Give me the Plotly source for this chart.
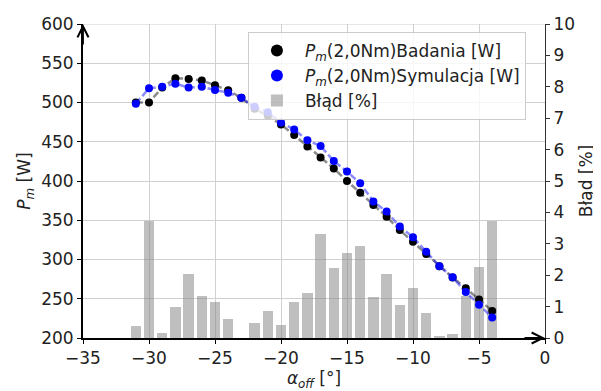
import plotly.graph_objects as go

# ---- data ----
alpha_off = [-31, -30, -29, -28, -27, -26, -25, -24, -23, -22, -21, -20, -19, -18,
             -17, -16, -15, -14, -13, -12, -11, -10, -9, -8, -7, -6, -5, -4]
pm_badania = [500, 500, 519, 531, 530, 528, 522, 515.5, 506, 492, 483, 472, 458.5, 444,
              430, 416, 400, 385, 369.5, 354.5, 337.5, 322.5, 307, 291.5, 277, 263.5, 249, 234.5]
pm_symulacja = [498.5, 518, 520, 524, 519, 520, 516, 512.5, 506, 494.5, 487.5, 474.5, 465.5, 452,
                444.5, 425.5, 412, 397, 374, 361, 342, 328.5, 310, 291.5, 277.3, 258.5, 242.5, 226]
blad = [0.38, 3.74, 0.15, 1.0, 2.05, 1.34, 1.15, 0.6, 0, 0.49, 0.86, 0.42, 1.14, 1.42,
        3.32, 2.24, 2.72, 2.94, 1.32, 2.05, 1.05, 1.58, 0.79, 0.07, 0.12, 1.34, 2.25, 3.74]

FONT = "DejaVu Sans"
TXT = "#222222"
TICKSIZE = 17
TITLESIZE = 17

fig = go.Figure()

# bars on primary y (right side), drawn beneath
fig.add_trace(go.Bar(x=alpha_off, y=blad, width=0.8, marker_color="rgba(128,128,128,0.5)",
                     marker_line_width=0, name="Błąd [%]", yaxis="y", legendrank=3))

# Badania
fig.add_trace(go.Scatter(x=alpha_off, y=pm_badania, mode="lines", yaxis="y2",
                         line=dict(color="rgba(0,0,0,0.45)", width=2.5, dash="7px,3px"),
                         showlegend=False, hoverinfo="skip"))
fig.add_trace(go.Scatter(x=alpha_off, y=pm_badania, mode="markers", yaxis="y2",
                         marker=dict(color="black", size=8),
                         name="<i>P</i><sub><i>m</i></sub>(2,0Nm)Badania [W]", legendrank=1))
# Symulacja
fig.add_trace(go.Scatter(x=alpha_off, y=pm_symulacja, mode="lines", yaxis="y2",
                         line=dict(color="rgba(0,0,255,0.45)", width=2.5, dash="7px,3px"),
                         showlegend=False, hoverinfo="skip"))
fig.add_trace(go.Scatter(x=alpha_off, y=pm_symulacja, mode="markers", yaxis="y2",
                         marker=dict(color="blue", size=8),
                         name="<i>P</i><sub><i>m</i></sub>(2,0Nm)Symulacja [W]", legendrank=2))

# page body has an 8px margin -> figure is 8px smaller and shifted
fig.update_layout(
    width=593, height=383,
    margin=dict(l=75, r=56, t=16, b=53, autoexpand=False),
    paper_bgcolor="white", plot_bgcolor="white",
    font=dict(family=FONT, size=TICKSIZE, color=TXT),
    showlegend=True,
    bargap=0,
    xaxis=dict(range=[-35, 0], dtick=5, tick0=0, showgrid=True, gridcolor="#d0d0d0", gridwidth=1,
               showline=True, linecolor="black", linewidth=2, ticks="outside", ticklen=4,
               tickcolor="black", zeroline=False, automargin=False,
               tickfont=dict(size=TICKSIZE),
               title=dict(text="<i>α</i><sub><i>off</i></sub> [°]", standoff=2,
                          font=dict(family=FONT, size=TITLESIZE, color=TXT))),
    yaxis=dict(range=[0, 10], dtick=1, side="right", showgrid=False, zeroline=False,
               showline=True, linecolor="#333333", linewidth=1, ticks="outside", ticklen=4,
               tickcolor="#333333", automargin=False, tickfont=dict(size=TICKSIZE),
               title=dict(text="Błąd [%]", standoff=6, font=dict(family=FONT, size=TITLESIZE, color=TXT))),
    yaxis2=dict(range=[200, 600], dtick=50, side="left", overlaying="y", showgrid=True,
                gridcolor="#d0d0d0", gridwidth=1, zeroline=False,
                showline=True, linecolor="black", linewidth=2, ticks="outside", ticklen=4,
                tickcolor="black", automargin=False, tickfont=dict(size=TICKSIZE),
                title=dict(text="<i>P</i><sub><i>m</i></sub> [W]", standoff=6,
                           font=dict(family=FONT, size=TITLESIZE, color=TXT))),
    legend=dict(x=0.357, y=0.975, xanchor="left", yanchor="top",
                bgcolor="rgba(255,255,255,0.8)", bordercolor="#cccccc", borderwidth=1,
                font=dict(family=FONT, size=17, color=TXT), traceorder="normal",
                itemsizing="constant", itemwidth=46),
)

# top boundary (grid line at 600)
fig.add_shape(type="line", xref="paper", yref="y2", x0=0, x1=1, y0=600, y1=600,
              line=dict(color="#d0d0d0", width=1), layer="below")

# axis arrows
fig.add_annotation(x=-35, y=600, xref="x", yref="y2", ax=0, ay=22, showarrow=True,
                   arrowhead=5, arrowsize=1.2, arrowwidth=1.8, arrowcolor="black", text="")
fig.add_annotation(x=0, y=200, xref="x", yref="y2", ax=-22, ay=0, showarrow=True,
                   arrowhead=5, arrowsize=1.2, arrowwidth=1.8, arrowcolor="black", text="")

fig.write_html("out.html")
